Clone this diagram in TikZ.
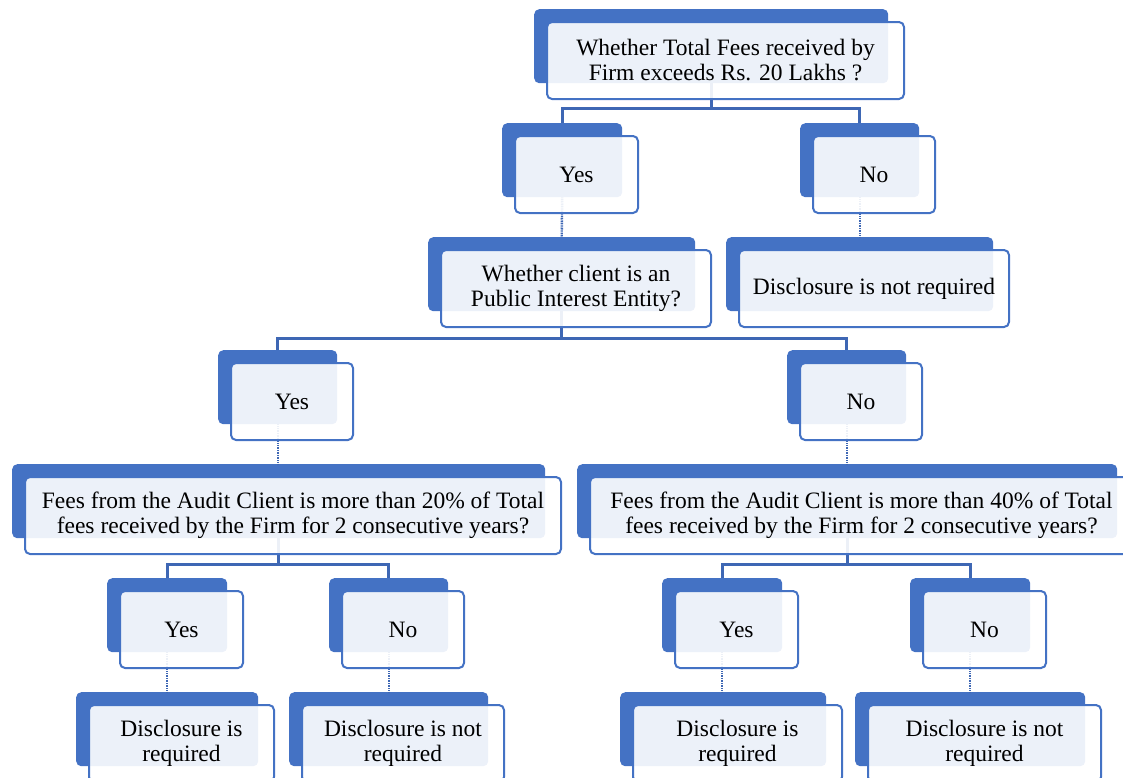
\documentclass[tikz,border=0pt]{standalone}
\usepackage{fontspec}
\setmainfont{Liberation Serif}
\usepackage{tikz}
\usetikzlibrary{positioning}

\definecolor{boxblue}{RGB}{68,114,196}
\definecolor{linkblue}{RGB}{62,103,180}

\begin{document}
\begin{tikzpicture}
		[x=1pt, y=-1pt,
		back/.style = {fill=boxblue, rounded corners=5pt, minimum height=74pt, inner sep=0pt, anchor=north west},
		front/.style = {draw=boxblue, line width=2pt, fill=white, fill opacity=0.9, text opacity=1, rounded corners=5pt,
			minimum height=77pt, inner sep=0pt, align=center, anchor=north west, font=\fontsize{23.5}{25}\selectfont},
		split/.style = {draw=linkblue, line width=2.6pt},
		link/.style = {draw=linkblue, line width=2.4pt, dash pattern=on 1pt off 0.7pt}]
	\useasboundingbox (0,0) rectangle (1123,777);
	% back plates
	\node[back, minimum width=354pt] (q1b) at (534,9) {};
	\node[back, minimum width=120pt] (y1b) at (502,123) {};
	\node[back, minimum width=119pt] (n1b) at (800,123) {};
	\node[back, minimum width=267pt] (q2b) at (428,237) {};
	\node[back, minimum width=267pt] (d1b) at (726,237) {};
	\node[back, minimum width=119pt] (y2b) at (218,350) {};
	\node[back, minimum width=119pt] (n2b) at (787,350) {};
	\node[back, minimum width=533pt] (q3b) at (12,464) {};
	\node[back, minimum width=540pt] (q4b) at (577,464) {};
	\node[back, minimum width=120pt] (y3b) at (107,578) {};
	\node[back, minimum width=119pt] (n3b) at (329,578) {};
	\node[back, minimum width=120pt] (y4b) at (662,578) {};
	\node[back, minimum width=120pt] (n4b) at (910,578) {};
	\node[back, minimum width=182pt] (d2b) at (76,692) {};
	\node[back, minimum width=199pt] (d3b) at (289,692) {};
	\node[back, minimum width=206pt] (d4b) at (620,692) {};
	\node[back, minimum width=230pt] (d5b) at (855,692) {};
	% connectors
	\draw[split] (q1b.south) -- ++(0,25) -| (y1b.north);
	\draw[split] (q1b.south) -- ++(0,25) -| (n1b.north);
	\draw[link] (y1b.south) -- (q2b.north);
	\draw[link] (n1b.south) -- (d1b.north);
	\draw[split] (q2b.south) -- ++(0,27) -| (y2b.north);
	\draw[split] (q2b.south) -- ++(0,27) -| (n2b.north);
	\draw[link] (y2b.south) -- (q3b.north -| y2b.south);
	\draw[link] (n2b.south) -- (q4b.north -| n2b.south);
	\draw[split] (q3b.south) -- ++(0,26) -| (y3b.north);
	\draw[split] (q3b.south) -- ++(0,26) -| (n3b.north);
	\draw[split] (q4b.south) -- ++(0,26) -| (y4b.north);
	\draw[split] (q4b.south) -- ++(0,26) -| (n4b.north);
	\draw[link] (y3b.south) -- (d2b.north -| y3b.south);
	\draw[link] (n3b.south) -- (d3b.north -| n3b.south);
	\draw[link] (y4b.south) -- (d4b.north -| y4b.south);
	\draw[link] (n4b.south) -- (d5b.north -| n4b.south);
	% front boxes
	\node[front, minimum width=357pt] (q1) at ([shift={(12pt,-12pt)}]q1b.north west) {Whether Total Fees received by\\Firm exceeds Rs. 20 Lakhs ?};
	\node[front, minimum width=123pt] (y1) at ([shift={(12pt,-12pt)}]y1b.north west) {Yes};
	\node[front, minimum width=122pt] (n1) at ([shift={(12pt,-12pt)}]n1b.north west) {No};
	\node[front, minimum width=270pt] (q2) at ([shift={(12pt,-12pt)}]q2b.north west) {Whether client is an\\Public Interest Entity?};
	\node[front, minimum width=270pt] (d1) at ([shift={(12pt,-12pt)}]d1b.north west) {Disclosure is not required};
	\node[front, minimum width=122pt] (y2) at ([shift={(12pt,-12pt)}]y2b.north west) {Yes};
	\node[front, minimum width=122pt] (n2) at ([shift={(12pt,-12pt)}]n2b.north west) {No};
	\node[front, minimum width=536pt] (q3) at ([shift={(12pt,-12pt)}]q3b.north west) {Fees from the Audit Client is more than 20\% of Total\\fees received by the Firm for 2 consecutive years?};
	\node[front, minimum width=543pt] (q4) at ([shift={(12pt,-12pt)}]q4b.north west) {Fees from the Audit Client is more than 40\% of Total\\fees received by the Firm for 2 consecutive years?};
	\node[front, minimum width=123pt] (y3) at ([shift={(12pt,-12pt)}]y3b.north west) {Yes};
	\node[front, minimum width=122pt] (n3) at ([shift={(12pt,-12pt)}]n3b.north west) {No};
	\node[front, minimum width=123pt] (y4) at ([shift={(12pt,-12pt)}]y4b.north west) {Yes};
	\node[front, minimum width=123pt] (n4) at ([shift={(12pt,-12pt)}]n4b.north west) {No};
	\node[front, minimum width=185pt] (d2) at ([shift={(12pt,-12pt)}]d2b.north west) {Disclosure is\\required};
	\node[front, minimum width=202pt] (d3) at ([shift={(12pt,-12pt)}]d3b.north west) {Disclosure is not\\required};
	\node[front, minimum width=209pt] (d4) at ([shift={(12pt,-12pt)}]d4b.north west) {Disclosure is\\required};
	\node[front, minimum width=233pt] (d5) at ([shift={(12pt,-12pt)}]d5b.north west) {Disclosure is not\\required};
\end{tikzpicture}
\end{document}
